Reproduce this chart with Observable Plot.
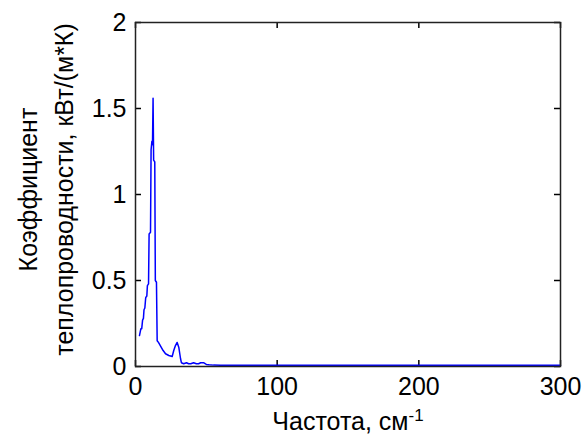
<!DOCTYPE html>
<html>
<head>
<meta charset="utf-8">
<script src="https://cdn.jsdelivr.net/npm/d3@7"></script>
<script src="https://cdn.jsdelivr.net/npm/@observablehq/plot@0.6"></script>
<style>
  html, body { margin: 0; padding: 0; background: #fff; }
  svg { display: block; }
</style>
</head>
<body>
<div id="chart"></div>
<script>
const freq = [2.8, 3.8, 4.4, 5.0, 5.6, 6.0, 6.6, 7.2, 8.0, 8.4, 9.2, 9.6, 10.6, 11.0, 11.6, 12.0, 12.4, 12.8, 13.6, 14.0, 14.8, 15.3, 16.2, 17.6, 19.5, 21.2, 23.5, 25.9, 27.0, 28.2, 29.4, 30.6, 31.8, 32.4, 34, 36, 37.5, 39, 41, 43, 44.5, 46, 48, 50, 52, 55, 60, 300];
const kappa = [0.18, 0.22, 0.22, 0.27, 0.28, 0.33, 0.34, 0.40, 0.41, 0.47, 0.48, 0.77, 0.78, 1.26, 1.31, 1.29, 1.56, 1.20, 1.19, 0.50, 0.49, 0.15, 0.14, 0.12, 0.093, 0.074, 0.064, 0.058, 0.093, 0.122, 0.14, 0.11, 0.045, 0.022, 0.016, 0.022, 0.016, 0.016, 0.022, 0.016, 0.016, 0.022, 0.022, 0.012, 0.010, 0.008, 0.007, 0.007];
const xTicks = [0, 100, 200, 300];
const yTicks = [0, 0.5, 1, 1.5, 2];
const yTickLabels = ["0", "0.5", "1", "1.5", "2"];
const xLabel = "Частота, см";
const xLabelSup = "-1";
const yLabelLines = ["Коэффициент", "теплопроводности, кВт/(м*К)"];

const data = freq.map((f, i) => ({f, k: kappa[i]}));
const font = "'Liberation Sans', Arial, sans-serif";
const fs = 25;
const W = 588, H = 444, mL = 135, mR = 28, mT = 22, mB = 78;
const fw = W - mL - mR, fh = H - mT - mB, tl = 6;
const xDom = [0, 300], yDom = [0, 2];
const tx = tl / fw * (xDom[1] - xDom[0]); // tick length in x units
const ty = tl / fh * (yDom[1] - yDom[0]); // tick length in y units

const chart = Plot.plot({
  width: W,
  height: H,
  marginLeft: mL,
  marginRight: mR,
  marginTop: mT,
  marginBottom: mB,
  style: {fontFamily: font, fontSize: fs + "px", color: "#000", background: "#fff"},
  x: {domain: xDom},
  y: {domain: yDom},
  marks: [
    Plot.axisX({ticks: xTicks, anchor: "bottom", tickSize: 0, tickPadding: 11, label: null, fontSize: fs}),
    Plot.axisY({ticks: yTicks, anchor: "left", tickSize: 0, tickPadding: 9, tickFormat: (d) => yTickLabels[yTicks.indexOf(d)], label: null, fontSize: fs}),
    // inward ticks on all four sides
    Plot.ruleX(xTicks, {x: d => d, y1: yDom[0], y2: yDom[0] + ty, stroke: "#000", strokeWidth: 1.5}),
    Plot.ruleX(xTicks, {x: d => d, y1: yDom[1] - ty, y2: yDom[1], stroke: "#000", strokeWidth: 1.5}),
    Plot.ruleY(yTicks, {y: d => d, x1: xDom[0], x2: xDom[0] + tx, stroke: "#000", strokeWidth: 1.5}),
    Plot.ruleY(yTicks, {y: d => d, x1: xDom[1] - tx, x2: xDom[1], stroke: "#000", strokeWidth: 1.5}),
    Plot.line(data, {x: "f", y: "k", stroke: "#0000ff", strokeWidth: 1.5}),
    Plot.frame({stroke: "#222", strokeWidth: 1.5}),
    Plot.text([xLabel], {frameAnchor: "bottom", dy: 63, fontSize: fs, fill: "#000", className: "xlab"}),
    Plot.text([yLabelLines.join("\n")], {frameAnchor: "left", rotate: -90, dx: -92, dy: -5, textAnchor: "middle", lineAnchor: "middle", lineHeight: 1.44, fontSize: fs, fill: "#000"})
  ]
});
document.getElementById("chart").appendChild(chart);
// append superscript to the x label
d3.select(chart).selectAll(".xlab text").each(function() {
  d3.select(this).append("tspan").attr("dy", "-0.5em").attr("font-size", "17px").text(xLabelSup);
});
</script>
</body>
</html>
